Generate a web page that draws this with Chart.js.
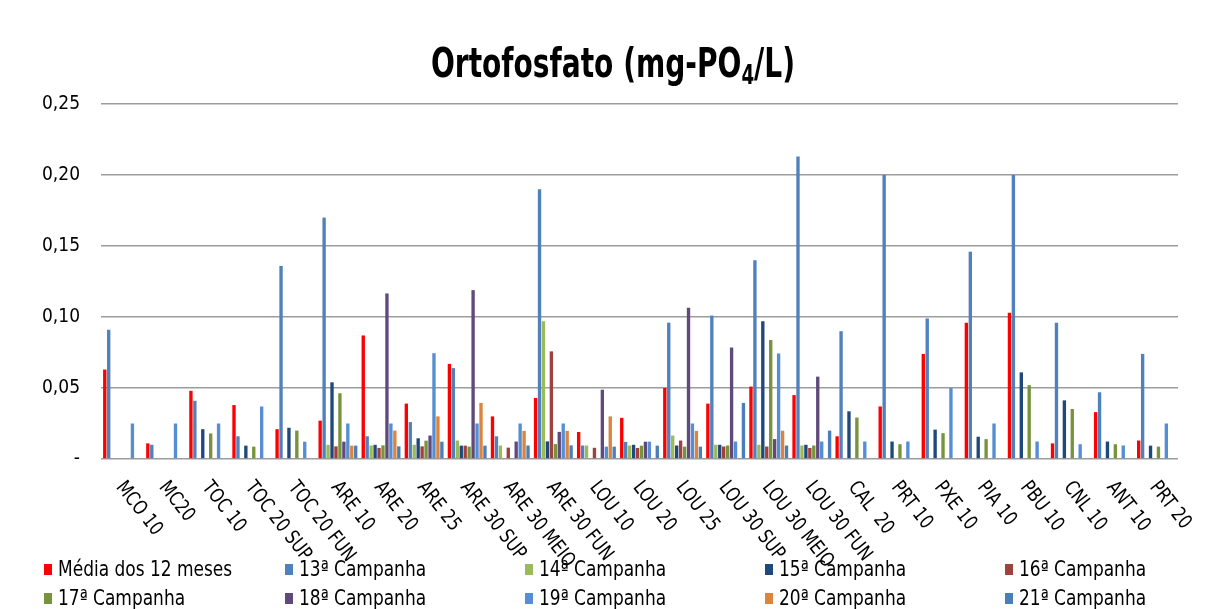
<!DOCTYPE html>
<html><head><meta charset="utf-8">
<script src="https://cdn.jsdelivr.net/npm/chart.js@4.4.1/dist/chart.umd.min.js"></script>
<style>
html,body{margin:0;padding:0;background:#fff;}
#wrap{position:relative;width:1208px;height:609px;overflow:hidden;background:#fff;}
#c{position:absolute;left:0;top:0;}
#legend{position:absolute;left:0;top:0;width:1208px;height:609px;pointer-events:none;
  font-family:'DejaVu Sans Condensed','Open Sans',sans-serif;font-size:21px;color:#000;}
.item{position:absolute;display:flex;align-items:center;white-space:nowrap;line-height:1;}
.box{width:8px;height:11px;margin-right:6px;flex:none;}
.txt{display:inline-block;transform:scaleX(0.9);transform-origin:0 50%;}
</style></head>
<body><div id="wrap"><canvas id="c" width="1208" height="609"></canvas><div id="legend"></div></div>
<script>
const categories = ['MCO 10','MC20','TOC 10','TOC 20 SUP','TOC 20 FUN','ARE 10','ARE 20','ARE 25','ARE 30 SUP','ARE 30 MEIO','ARE 30 FUN','LOU 10','LOU 20','LOU 25','LOU 30 SUP','LOU 30 MEIO','LOU 30 FUN','CAL  20','PRT 10','PXE 10','PIA 10','PBU 10','CNL 10','ANT 10','PRT 20'];
const seriesNames = ['Média dos 12 meses','13ª Campanha','14ª Campanha','15ª Campanha','16ª Campanha','17ª Campanha','18ª Campanha','19ª Campanha','20ª Campanha','21ª Campanha'];
const media = [0.063,0.011,0.048,0.038,0.021,0.027,0.087,0.039,0.067,0.030,0.043,0.019,0.029,0.050,0.039,0.051,0.045,0.016,0.037,0.074,0.096,0.103,0.011,0.033,0.013];
const camp13 = [0.091,0.010,0.041,0.016,0.136,0.170,0.016,0.026,0.064,0.016,0.190,0.0095,0.012,0.096,0.101,0.140,0.213,0.090,0.200,0.099,0.146,0.200,0.096,0.047,0.074];
const camp14 = [null,null,null,null,null,0.010,0.0095,0.010,0.013,0.0095,0.097,0.0095,0.0095,0.0165,0.010,0.010,0.0095,null,null,null,null,null,null,null,null];
const camp15 = [null,null,0.021,0.0094,0.022,0.054,0.010,0.0146,0.0094,null,0.0124,null,0.010,0.0095,0.010,0.097,0.010,0.0336,0.0123,0.0207,0.0157,0.061,0.0413,0.0123,0.0094];
const camp16 = [null,null,null,null,null,0.0089,0.0078,0.0089,0.0094,0.008,0.0758,0.0079,0.0078,0.013,0.0088,0.0088,0.0078,null,null,null,null,null,null,null,null];
const camp17 = [null,null,0.018,0.0087,0.020,0.0463,0.0096,0.0129,0.0087,null,0.0105,null,0.0094,0.0087,0.0095,0.0838,0.0095,0.0292,0.0104,0.0182,0.014,0.052,0.0352,0.0104,0.0087];
const camp18 = [null,null,null,null,null,0.0122,0.1166,0.0165,0.1189,0.0123,0.0191,0.0488,0.0122,0.1065,0.0785,0.014,0.058,null,null,null,null,null,null,null,null];
const camp19 = [0.025,0.025,0.025,0.037,0.0122,0.025,0.025,0.0745,0.025,0.025,0.025,0.0087,0.0122,0.025,0.0123,0.0743,0.0123,0.0123,0.0123,0.050,0.025,0.0123,0.0104,0.0095,0.025];
const camp20 = [null,null,null,null,null,0.0094,0.020,0.030,0.0395,0.0198,0.0198,0.030,null,0.0198,null,0.0199,null,null,null,null,null,null,null,null,null];
const camp21 = [null,null,null,null,null,0.0094,0.0089,0.0122,0.0094,0.0095,0.0096,0.0087,0.0094,0.0087,0.0395,0.0095,0.020,null,null,null,null,null,null,null,null];
const yTickLabels = ['-','0,05','0,10','0,15','0,20','0,25'];
const titleMain = 'Ortofosfato (mg-PO';
const titleSub = '4';
const titleEnd = '/L)';

const seriesValues = [media,camp13,camp14,camp15,camp16,camp17,camp18,camp19,camp20,camp21];
const seriesColors = ['#FF0000','#4F81BD','#9BBB59','#1F497D','#A0413D','#77933C','#604A7B','#558ED5','#DB843D','#4A7EBB'];
const FONT = "'DejaVu Sans Condensed','Open Sans',sans-serif";

const datasets = seriesNames.map((name, i) => ({
  label: name,
  data: seriesValues[i],
  backgroundColor: seriesColors[i],
  borderWidth: 0,
  categoryPercentage: 0.917,
  barPercentage: 0.85
}));

// rotated category labels (text runs down-right from each tick)
const xLabelPlugin = {
  id: 'xLabels',
  afterDraw(chart) {
    const {ctx, chartArea} = chart;
    const x = chart.scales.x;
    ctx.save();
    ctx.font = '20px ' + FONT;
    ctx.fillStyle = '#000';
    ctx.textAlign = 'left';
    ctx.textBaseline = 'middle';
    chart.data.labels.forEach((lab, i) => {
      const px = x.getPixelForValue(i);
      ctx.save();
      ctx.translate(px - 3, chartArea.bottom + 25);
      ctx.rotate(52 * Math.PI / 180);
      ctx.scale(0.88, 1);
      ctx.fillText(lab, 0, 0);
      ctx.restore();
    });
    ctx.restore();
  }
};

// title with subscript
const titlePlugin = {
  id: 'subTitle',
  afterDraw(chart) {
    const ctx = chart.ctx;
    const sx = 0.78;
    const big = 'bold 40px ' + FONT, small = 'bold 26px ' + FONT;
    ctx.save();
    ctx.font = big; const w1 = ctx.measureText(titleMain).width, w3 = ctx.measureText(titleEnd).width;
    ctx.font = small; const w2 = ctx.measureText(titleSub).width;
    const total = (w1 + w2 + w3) * sx;
    const cx = (chart.width + 18) / 2;
    const baseY = 77;
    ctx.translate(cx - total / 2, baseY);
    ctx.scale(sx, 1);
    ctx.fillStyle = '#000';
    ctx.textBaseline = 'alphabetic';
    ctx.textAlign = 'left';
    ctx.font = big; ctx.fillText(titleMain, 0, 0);
    ctx.font = small; ctx.fillText(titleSub, w1, 7);
    ctx.font = big; ctx.fillText(titleEnd, w1 + w2, 0);
    ctx.restore();
  }
};

const chart = new Chart(document.getElementById('c'), {
  type: 'bar',
  data: { labels: categories, datasets },
  options: {
    responsive: false,
    animation: false,
    devicePixelRatio: 1,
    layout: { padding: { left: 0, right: 30, top: 104, bottom: 150 } },
    plugins: {
      legend: { display: false },
      tooltip: { enabled: false },
      title: { display: false }
    },
    scales: {
      x: { display: false },
      y: {
        min: 0, max: 0.25,
        afterFit(scale) { scale.width = 101; },
        ticks: {
          stepSize: 0.05,
          padding: 21,
          color: '#000',
          font: { family: FONT, size: 19 },
          callback: (v, i) => yTickLabels[i]
        },
        grid: { color: '#9C9C9C', lineWidth: 1.6, drawTicks: false },
        border: { display: false }
      }
    }
  },
  plugins: [xLabelPlugin, titlePlugin]
});

// HTML legend built from chart datasets (5 columns x 2 rows)
const legendEl = document.getElementById('legend');
const colX = [44, 285, 525, 765, 1005];
const rowY = [569, 598];
chart.data.datasets.forEach((ds, i) => {
  const it = document.createElement('div');
  it.className = 'item';
  it.style.left = colX[i % 5] + 'px';
  it.style.top = (rowY[Math.floor(i / 5)] - 11) + 'px';
  it.style.height = '22px';
  const b = document.createElement('span');
  b.className = 'box';
  b.style.background = ds.backgroundColor;
  const t = document.createElement('span');
  t.className = 'txt';
  t.textContent = ds.label;
  it.appendChild(b); it.appendChild(t);
  legendEl.appendChild(it);
});
</script>
</body></html>
